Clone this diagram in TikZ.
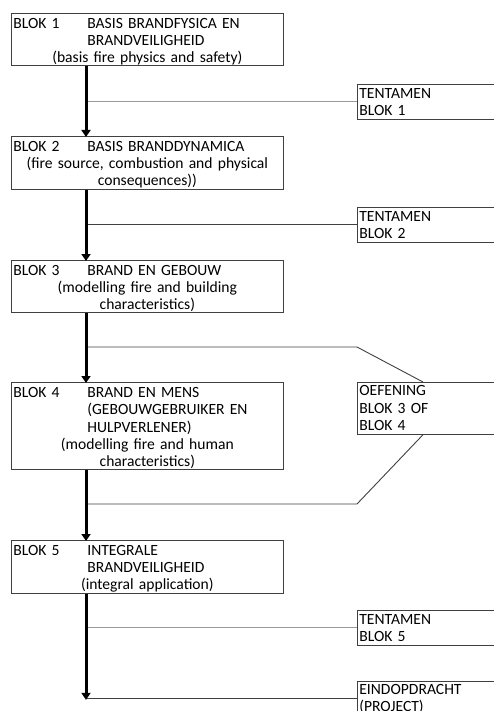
\documentclass[tikz,border=0pt]{standalone}
\usepackage{fontspec}
\setmainfont{Carlito}
\usetikzlibrary{positioning,calc,arrows.meta}
\tikzset{
  every picture/.style={line width=0.7pt},
  sblok/.style={draw=black!75, anchor=north west, inner xsep=2pt, inner ysep=0pt,
                minimum width=272pt, minimum height=#1, text width=268pt, align=center,
                font=\fontsize{15.6}{17}\selectfont,
                execute at begin node={\rule{0pt}{14.5pt}}},
  stoets/.style={draw=black!75, anchor=north west, inner xsep=2pt, inner ysep=0.5pt,
                 minimum width=140pt, minimum height=35pt, text width=136pt, align=left,
                 font=\fontsize{15.6}{17.4}\selectfont},
  sflow/.style={line width=3pt, -{Triangle[width=9pt,length=7pt]}, shorten >=-1pt},
  slink/.style={line width=0.9pt, draw=black!75},
  slinkl/.style={line width=0.9pt, draw=black!40},
}
\newcommand{\blokline}[2]{\makebox[\linewidth][l]{\makebox[74pt][l]{#1}#2}}
\newcommand{\indline}[1]{\makebox[\linewidth][l]{\hspace{74pt}#1}}

\begin{document}
\begin{tikzpicture}[x=1pt,y=-1pt]
\useasboundingbox (0,0) rectangle (494,711);
\clip (0,0) rectangle (494,711);
\coordinate (spine) at (86,0);
% study blocks
\node[sblok=52pt] (blok1) at (11,13)
  {\blokline{BLOK 1}{BASIS BRANDFYSICA EN}\\
   \indline{BRANDVEILIGHEID}\\
   (basis fire physics and safety)};
\node[sblok=53pt] (blok2) at (11,136)
  {\blokline{BLOK 2}{BASIS BRANDDYNAMICA}\\
   (fire source, combustion and physical\\
   consequences))};
\node[sblok=52pt] (blok3) at (11,260)
  {\blokline{BLOK 3}{BRAND EN GEBOUW}\\
   (modelling fire and building\\
   characteristics)};
\node[sblok=87pt, font=\fontsize{15.6}{17.4}\selectfont] (blok4) at (11,382)
  {\blokline{BLOK 4}{BRAND EN MENS}\\
   \indline{(GEBOUWGEBRUIKER EN}\\
   \indline{HULPVERLENER)}\\
   (modelling fire and human\\
   characteristics)};
\node[sblok=53pt] (blok5) at (11,540)
  {\blokline{BLOK 5}{INTEGRALE}\\
   \indline{BRANDVEILIGHEID}\\
   (integral application)};
% exams on the right
\node[stoets] (toets1) at (357,84) {TENTAMEN\\BLOK 1};
\node[stoets] (toets2) at (357,207) {TENTAMEN\\BLOK 2};
\node[stoets, minimum height=52pt] (oef) at (357,382) {OEFENING\\BLOK 3 OF\\BLOK 4};
\node[stoets] (toets5) at (357,610) {TENTAMEN\\BLOK 5};
\node[stoets] (eind) at (357,681) {EINDOPDRACHT\\(PROJECT)};
\coordinate (oefin) at ($(oef.north west)+(66,0)$);
\coordinate (oefout) at ($(oef.south west)+(66,0)$);
% links
\draw[slinkl] (spine |- toets1.west) -- (toets1.west);
\draw[slink] (spine |- toets2.west) -- (toets2.west);
\draw[slink] (spine |- 0,347) -- (357,347) -- (oefin);
\draw[slink] (spine |- 0,504) -- (357,504) -- (oefout);
\draw[slinkl] (spine |- toets5.west) -- (toets5.west);
\draw[slink] (spine |- eind.west) -- (eind.west);
% main flow
\draw[sflow] (spine |- blok1.south) -- (spine |- blok2.north);
\draw[sflow] (spine |- blok2.south) -- (spine |- blok3.north);
\draw[sflow] (spine |- blok3.south) -- (spine |- blok4.north);
\draw[sflow] (spine |- blok4.south) -- (spine |- blok5.north);
\draw[sflow] (spine |- blok5.south) -- (spine |- eind.west);
\end{tikzpicture}
\end{document}
